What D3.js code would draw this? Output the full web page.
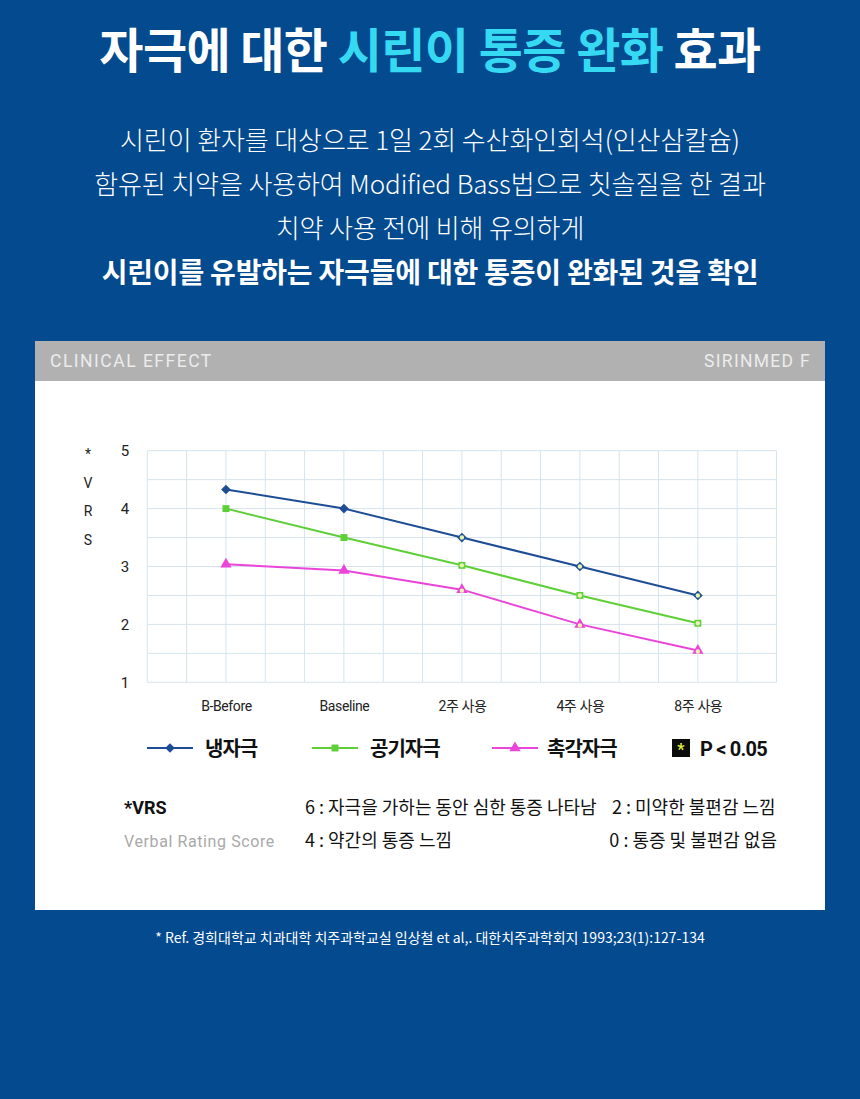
<!DOCTYPE html>
<html><head><meta charset="utf-8">
<script src="https://cdn.jsdelivr.net/npm/d3@7"></script>
<style>
html,body{margin:0;padding:0;background:#034a8f;}
svg{display:block;}
</style></head>
<body>
<svg id="c" width="860" height="1099"></svg>
<script>
const categories = ["B-Before","Baseline","2주 사용","4주 사용","8주 사용"];
const coldValues = [4.33, 4.0, 3.5, 3.0, 2.5];
const airValues = [4.0, 3.5, 3.02, 2.5, 2.02];
const touchValues = [3.04, 2.93, 2.6, 2.0, 1.55];
const significant = [false, false, true, true, true];
const seriesNames = ["냉자극","공기자극","촉각자극"];
const yTicks = [1,2,3,4,5];

const KR = "'Noto Sans CJK KR','Noto Sans',sans-serif";
const RB = "Roboto,'Noto Sans CJK KR',sans-serif";
const svg = d3.select("#c");
const W = 860;
svg.append("rect").attr("width",860).attr("height",1099).attr("fill","#034a8f");

// title
const t = svg.append("text").attr("x",W/2).attr("y",68).attr("text-anchor","middle")
  .style("font-family",KR).attr("font-size",48).attr("font-weight",700).attr("letter-spacing",-0.6).attr("fill","#fff");
t.append("tspan").text("자극에 대한 ");
t.append("tspan").attr("fill","#35d9f2").text("시린이 통증 완화");
t.append("tspan").text(" 효과");

const sub = ["시린이 환자를 대상으로 1일 2회 수산화인회석(인산삼칼슘)",
  "함유된 치약을 사용하여 Modified Bass법으로 칫솔질을 한 결과",
  "치약 사용 전에 비해 유의하게"];
sub.forEach((s,i)=>{
  svg.append("text").attr("x",W/2).attr("y",150+i*44).attr("text-anchor","middle").style("font-family",KR)
    .attr("font-size",26).attr("font-weight",300).attr("letter-spacing",-0.1).attr("fill","#fff").text(s);
});
svg.append("text").attr("x",W/2).attr("y",283).attr("text-anchor","middle").style("font-family",KR)
  .attr("font-size",28).attr("font-weight",700).attr("letter-spacing",-0.2).attr("fill","#fff")
  .text("시린이를 유발하는 자극들에 대한 통증이 완화된 것을 확인");

// card
svg.append("rect").attr("x",35).attr("y",341).attr("width",790).attr("height",569).attr("fill","#fff");
svg.append("rect").attr("x",35).attr("y",341).attr("width",790).attr("height",40).attr("fill","#b1b1b1");
svg.append("text").attr("x",50).attr("y",367).attr("font-size",17.5).style("font-family",RB)
  .attr("fill","#ececec").attr("letter-spacing",1.5).text("CLINICAL EFFECT");
svg.append("text").attr("x",811).attr("y",367).attr("text-anchor","end").attr("font-size",17.5).style("font-family",RB)
  .attr("fill","#ececec").attr("letter-spacing",1.3).text("SIRINMED F");

// chart
const x0 = 147.3, x1 = 776.5, yTop = 450.7, yBot = 682.3;
const gx = d3.scaleLinear().domain([0,16]).range([x0,x1]);
const x = i => gx(2 + 3*i);
const y = d3.scaleLinear().domain([1,5]).range([yBot,yTop]);
const grid = svg.append("g");
d3.range(0,17).forEach(k=>{
  grid.append("line").attr("x1",gx(k)).attr("x2",gx(k)).attr("y1",yTop).attr("y2",yBot)
    .attr("stroke","#d6e4ee").attr("stroke-width",1);
});
d3.range(1,5.01,0.5).forEach(v=>{
  grid.append("line").attr("x1",x0).attr("x2",x1).attr("y1",y(v)).attr("y2",y(v))
    .attr("stroke","#d6e4ee").attr("stroke-width",1);
});
const yAxis = d3.axisLeft(y).tickValues(yTicks).tickFormat(d3.format("d")).tickSize(0).tickPadding(0);
const ya = svg.append("g").attr("transform","translate(130,0)").call(yAxis);
ya.select(".domain").remove();
ya.selectAll("text").attr("font-size",15).style("font-family",RB).attr("fill","#222")
  .attr("text-anchor","middle").attr("dy","0.35em").attr("x",-5);
["*","V","R","S"].forEach((c,i)=>{
  svg.append("text").attr("x",88).attr("y",459+i*28.5).attr("text-anchor","middle")
    .attr("font-size",14).style("font-family",RB).attr("fill","#222").text(c);
});
const xAxis = d3.axisBottom(d3.scalePoint().domain(categories).range([x(0),x(4)])).tickSize(0).tickPadding(0);
const xa = svg.append("g").attr("transform","translate(0,711)").call(xAxis);
xa.select(".domain").remove();
xa.selectAll("text").attr("font-size",14).attr("fill","#222").attr("letter-spacing",-0.4).attr("dy",0)
  .style("font-family",RB);

const series = [
  {name:seriesNames[0], vals:coldValues, color:"#1f4d95", shape:d3.symbolDiamond2, size:60},
  {name:seriesNames[1], vals:airValues, color:"#5fcf38", shape:d3.symbolSquare, size:48},
  {name:seriesNames[2], vals:touchValues, color:"#ea45d8", shape:d3.symbolTriangle, size:55}
];
const line = d3.line().x((d,i)=>x(i)).y(d=>y(d));
series.forEach(s=>{
  svg.append("path").attr("d",line(s.vals)).attr("fill","none").attr("stroke",s.color).attr("stroke-width",2);
  s.vals.forEach((v,i)=>{
    const g = svg.append("g").attr("transform",`translate(${x(i)},${y(v)})`);
    g.append("path").attr("d",d3.symbol(s.shape,s.size)()).attr("fill",s.color);
    if(significant[i]) g.append("circle").attr("r",2.2).attr("cy",s.shape===d3.symbolTriangle?1:0).attr("fill","#e7f5b0");
  });
});

// legend
const lg = [{x:147,tx:205},{x:312,tx:370},{x:492,tx:547}];
series.forEach((s,i)=>{
  const L = lg[i];
  svg.append("line").attr("x1",L.x).attr("x2",L.x+46).attr("y1",748).attr("y2",748).attr("stroke",s.color).attr("stroke-width",2);
  svg.append("path").attr("transform",`translate(${L.x+23},748)`).attr("d",d3.symbol(s.shape,s.size)()).attr("fill",s.color);
  svg.append("text").attr("x",L.tx).attr("y",756).attr("font-size",20).attr("font-weight",700).style("font-family",KR)
    .attr("letter-spacing",-1).attr("fill","#111").text(s.name);
});
svg.append("rect").attr("x",672).attr("y",739).attr("width",18).attr("height",18).attr("fill","#0b0b0b");
svg.append("text").attr("x",681).attr("y",755).attr("text-anchor","middle").attr("font-size",16).attr("font-weight",700)
  .style("font-family",RB).attr("fill","#e0f24a").text("*");
svg.append("text").attr("x",700).attr("y",756).attr("font-size",20).attr("font-weight",700).style("font-family",RB)
  .attr("letter-spacing",-0.8).attr("fill","#111").text("P < 0.05");

// VRS note
svg.append("text").attr("x",124).attr("y",814).attr("font-size",18).attr("font-weight",700)
  .style("font-family",RB).attr("fill","#111").text("*VRS");
svg.append("text").attr("x",124).attr("y",847).attr("font-size",16).style("font-family",RB)
  .attr("fill","#a9a9a9").attr("letter-spacing",0.6).text("Verbal Rating Score");
const notes = [
  {x:305,y:814,t:"6 : 자극을 가하는 동안 심한 통증 나타남",a:"start"},
  {x:612,y:814,t:"2 : 미약한 불편감 느낌",a:"start"},
  {x:305,y:847,t:"4 : 약간의 통증 느낌",a:"start"},
  {x:777,y:847,t:"0 : 통증 및 불편감 없음",a:"end"}
];
notes.forEach(n=>{
  svg.append("text").attr("x",n.x).attr("y",n.y).attr("text-anchor",n.a).attr("font-size",18).style("font-family",KR)
    .attr("letter-spacing",0).attr("fill","#111").text(n.t);
});

svg.append("text").attr("x",430).attr("y",943).attr("text-anchor","middle").attr("font-size",14).style("font-family",KR)
  .attr("letter-spacing",0).attr("fill","#fff")
  .text("* Ref. 경희대학교 치과대학 치주과학교실 임상철 et al,. 대한치주과학회지 1993;23(1):127-134");
</script>
</body></html>
